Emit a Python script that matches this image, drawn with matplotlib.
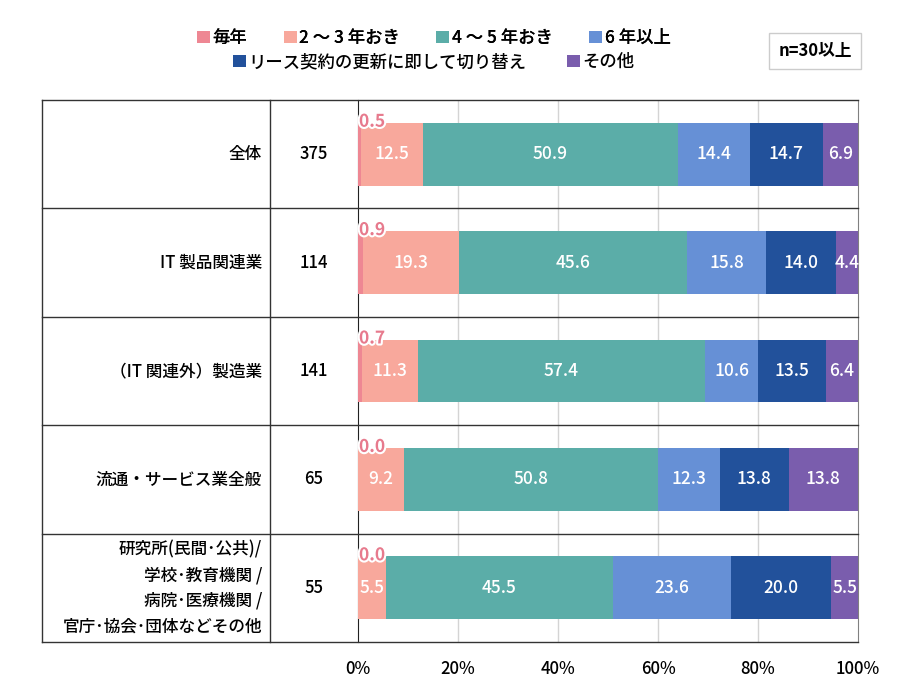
import matplotlib
matplotlib.use("Agg")
import matplotlib.pyplot as plt
import matplotlib.patheffects as pe
from matplotlib.patches import Patch

plt.rcParams['font.family'] = ['Noto Sans CJK JP', 'DejaVu Sans']
plt.rcParams['font.weight'] = 'medium'

# data
categories = ['全体', 'IT 製品関連業', '（IT 関連外）製造業', '流通・サービス業全般',
              '研究所(民間･公共)/\n学校･教育機関 /\n病院･医療機関 /\n官庁･協会･団体などその他']
n_values = [375, 114, 141, 65, 55]
series_names = ['毎年', '2 ～ 3 年おき', '4 ～ 5 年おき', '6 年以上', 'リース契約の更新に即して切り替え', 'その他']
every_year = [0.5, 0.9, 0.7, 0.0, 0.0]
every_2_3 = [12.5, 19.3, 11.3, 9.2, 5.5]
every_4_5 = [50.9, 45.6, 57.4, 50.8, 45.5]
over_6 = [14.4, 15.8, 10.6, 12.3, 23.6]
lease = [14.7, 14.0, 13.5, 13.8, 20.0]
other = [6.9, 4.4, 6.4, 13.8, 5.5]
series = [every_year, every_2_3, every_4_5, over_6, lease, other]
colors = ['#EE8793', '#F8A89C', '#5BADA8', '#6690D6', '#22519B', '#7A5DAD']
xticks = [0, 20, 40, 60, 80, 100]

fig = plt.figure(figsize=(9, 7), dpi=100)
ax = fig.add_axes([358 / 900, 1 - 642 / 700, 500 / 900, 542 / 700])
ax.set_xlim(0, 100)
ax.set_ylim(len(categories) - 0.5, -0.5)

rows = list(range(len(categories)))
bar_h = 0.58
left = [0.0] * len(categories)
for i, vals in enumerate(series):
    ax.barh(rows, vals, left=left, height=bar_h, color=colors[i], zorder=3)
    for r in rows:
        v = vals[r]
        if i == 0:
            ax.text(0.2, r - bar_h / 2 - 0.01, f'{v:.1f}', ha='left', va='center',
                    fontsize=12.5, fontweight='bold', color='#E77A8D', zorder=5,
                    path_effects=[pe.withStroke(linewidth=3, foreground='white')])
        else:
            ax.text(left[r] + v / 2, r, f'{v:.1f}', ha='center', va='center',
                    fontsize=12.5, color='white', zorder=5)
    left = [a + b for a, b in zip(left, vals)]

# grid and frame
for x in xticks[1:-1]:
    ax.axvline(x, color='#D4D4D4', lw=1, zorder=1)
ax.set_xticks(xticks)
ax.set_xticklabels([f'{x}%' for x in xticks], fontsize=12)
ax.tick_params(axis='x', length=0, pad=13)
ax.set_yticks([])
for s in ['top', 'bottom']:
    ax.spines[s].set_visible(False)
ax.spines['left'].set_color('#222222')
ax.spines['right'].set_color('#808080')

# table on the left
x_tab = -63.2
x_div = -17.6
for b in [r - 0.5 for r in rows] + [len(categories) - 0.5]:
    ax.plot([x_tab, 100], [b, b], color='#333333', lw=1, clip_on=False, zorder=4)
ax.plot([x_tab, x_tab], [-0.5, len(categories) - 0.5], color='#333333', lw=1, clip_on=False)
ax.plot([x_div, x_div], [-0.5, len(categories) - 0.5], color='#333333', lw=1, clip_on=False)
for r in rows:
    ax.text(-19.2, r, categories[r], ha='right', va='center', fontsize=12,
            linespacing=1.55, clip_on=False)
    ax.text(-8.8, r, str(n_values[r]), ha='center', va='center', fontsize=12, clip_on=False)

# legend in two rows
handles = [Patch(facecolor=c) for c in colors]
leg1 = fig.legend(handles[:4], series_names[:4], loc='center', bbox_to_anchor=(0.482, 1 - 38 / 700),
                  ncol=4, frameon=False, fontsize=12.5, handlelength=0.75, handleheight=0.75,
                  handletextpad=0.15, columnspacing=2.1, borderpad=0)
leg2 = fig.legend(handles[4:], series_names[4:], loc='center', bbox_to_anchor=(0.482, 1 - 62 / 700),
                  ncol=2, frameon=False, fontsize=12.5, handlelength=0.75, handleheight=0.75,
                  handletextpad=0.15, columnspacing=2.3, borderpad=0)
fig.add_artist(leg1)

fig.text(815 / 900, 1 - 51 / 700, 'n=30以上', ha='center', va='center', fontsize=12,
         fontweight='bold',
         bbox=dict(boxstyle='square,pad=0.55', facecolor='white', edgecolor='#CCCCCC'))

fig.savefig('out.png', dpi=100)
